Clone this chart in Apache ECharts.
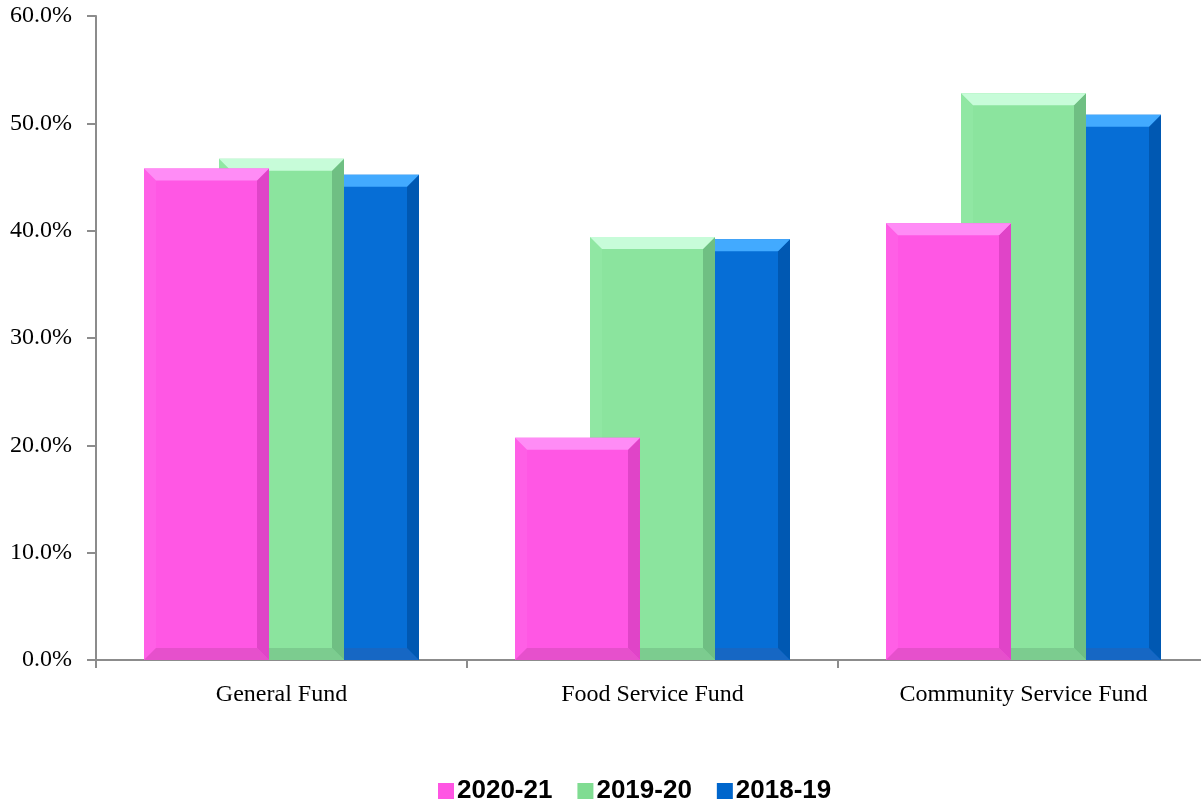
<!DOCTYPE html>
<html>
<head>
<meta charset="utf-8">
<script src="https://cdn.jsdelivr.net/npm/echarts@6/dist/echarts.min.js"></script>
<style>
  html, body { margin: 0; padding: 0; background: #fff; overflow: hidden; }
  #chart { width: 1209px; height: 806px; }
</style>
</head>
<body>
<div id="chart"></div>
<script>
// Chart data
const categories = ['General Fund', 'Food Service Fund', 'Community Service Fund'];
const seriesNames = ['2020-21', '2019-20', '2018-19'];
const values2021 = [45.8, 20.7, 40.7];
const values1920 = [46.7, 39.4, 52.8];
const values1819 = [45.2, 39.2, 50.8];
const yTicks = [0, 10, 20, 30, 40, 50, 60];

// Bevel colours for each series: main face, top, right, bottom, left
const palette = [
    { main: '#FF57E4', top: '#FF8CF6', right: '#E044C8', bottom: '#E650CC', left: '#FF5FE6', legend: '#FF55E3' },
    { main: '#8BE49E', top: '#C7FCD9', right: '#6FBF83', bottom: '#7CCC8F', left: '#90E7A3', legend: '#80DC92' },
    { main: '#066ED6', top: '#42AAFF', right: '#0058B2', bottom: '#1667C4', left: '#0A72D9', legend: '#0066CC' }
];

// bar layout inside one category band (fractions of band width)
const barFrac = 125 / 371;
const offsets = [-75 / 371, 0, 75 / 371];
const bevel = 12;

const chart = echarts.init(document.getElementById('chart'));

const makeRender = (idx) => (params, api) => {
    const cat = api.value(0);
    const val = api.value(1);
    const base = api.coord([cat, 0]);
    const top = api.coord([cat, val]);
    const band = api.size([1, 0])[0];
    const w = band * barFrac;
    const cx = base[0] + offsets[idx] * band;
    const x0 = cx - w / 2, x1 = cx + w / 2;
    const y0 = top[1], y1 = base[1];
    const b = Math.min(bevel, (y1 - y0) / 2);
    const c = palette[idx];
    const poly = (pts, fill) => ({ type: 'polygon', shape: { points: pts }, style: { fill: fill } });
    return {
        type: 'group',
        children: [
            { type: 'rect', shape: { x: x0, y: y0, width: w, height: y1 - y0 }, style: { fill: c.main } },
            poly([[x0, y0], [x0 + b, y0 + b], [x0 + b, y1 - b], [x0, y1]], c.left),
            poly([[x0, y1], [x1, y1], [x1 - b, y1 - b], [x0 + b, y1 - b]], c.bottom),
            poly([[x1, y0], [x1, y1], [x1 - b, y1 - b], [x1 - b, y0 + b]], c.right),
            poly([[x0, y0], [x1, y0], [x1 - b, y0 + b], [x0 + b, y0 + b]], c.top)
        ]
    };
};

const allValues = [values2021, values1920, values1819];

const series = allValues.map((vals, i) => ({
    name: seriesNames[i],
    type: 'custom',
    renderItem: makeRender(i),
    z: 10 - i,
    itemStyle: { color: palette[i].legend },
    encode: { x: 0, y: 1 },
    data: vals.map((v, j) => [j, v])
}));

chart.setOption({
    animation: false,
    grid: { left: 96, right: 0, top: 16, height: 644, containLabel: false },
    legend: {
        data: seriesNames,
        top: 773,
        left: 433,
        icon: 'rect',
        itemWidth: 16,
        itemHeight: 16,
        itemGap: 25,
        textStyle: { fontFamily: 'Liberation Sans, Arial', fontWeight: 'bold', fontSize: 26, color: '#000', padding: [0, 0, 0, -2] }
    },
    xAxis: {
        type: 'category',
        data: categories,
        axisLine: { lineStyle: { color: '#8c8c8c', width: 2 } },
        axisTick: { show: true, length: 8, lineStyle: { color: '#8c8c8c', width: 2 } },
        axisLabel: { fontFamily: 'Liberation Serif, serif', fontSize: 24, color: '#000', margin: 23 }
    },
    yAxis: {
        type: 'value',
        min: yTicks[0],
        max: yTicks[yTicks.length - 1],
        interval: 10,
        splitLine: { show: false },
        axisLine: { show: true, lineStyle: { color: '#8c8c8c', width: 2 } },
        axisTick: { show: true, length: 9, lineStyle: { color: '#8c8c8c', width: 2 } },
        axisLabel: {
            fontFamily: 'Liberation Serif, serif',
            fontSize: 24,
            color: '#000',
            margin: 24,
            formatter: (v) => v.toFixed(1) + '%'
        }
    },
    series: series
});
</script>
</body>
</html>
